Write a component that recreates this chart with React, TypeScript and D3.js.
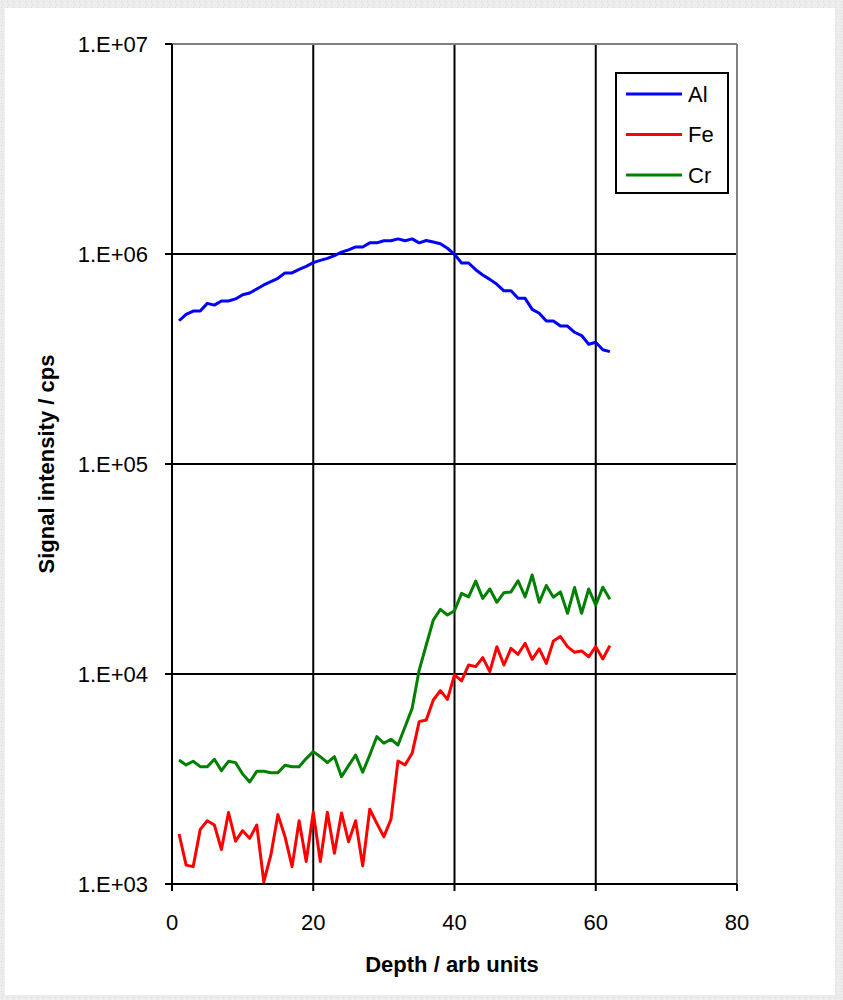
import React from "react";
import * as d3 from "d3";

const depth = d3.range(1, 63);

const alValues = [
  481000, 516000, 535000, 535000, 582000, 571000, 597000, 597000, 611000, 640000,
  652000, 681000, 712000, 738000, 766000, 813000, 813000, 845000, 873000, 909000,
  933000, 953000, 982000, 1020000, 1047000, 1080000, 1080000, 1130000, 1130000, 1156000,
  1156000, 1180000, 1156000, 1180000, 1130000, 1160000, 1140000, 1120000, 1065000, 997000,
  906000, 906000, 842000, 794000, 757000, 717000, 668000, 668000, 615000, 615000,
  545000, 522000, 480000, 480000, 454000, 454000, 424000, 409000, 372000, 380000,
  350000, 343000,
];

const feValues = [
  1730, 1230, 1210, 1820, 2000, 1910, 1460, 2190, 1600, 1795,
  1650, 1910, 1025, 1375, 2140, 1680, 1210, 2000, 1280, 2200,
  1280, 2195, 1400, 2180, 1590, 2000, 1220, 2270, 1945, 1680,
  2030, 3855, 3690, 4190, 5930, 6040, 7520, 8330, 7570, 9900,
  9270, 11040, 10840, 11970, 10270, 13490, 11040, 13250, 12410, 14000,
  11750, 13160, 11240, 14360, 15070, 13490, 12680, 12880, 12080, 13490,
  11790, 13650,
];

const crValues = [
  3890, 3690, 3840, 3620, 3620, 3925, 3465, 3840, 3785, 3340,
  3060, 3440, 3440, 3390, 3390, 3675, 3620, 3620, 3955, 4270,
  4040, 3785, 4040, 3245, 3660, 4115, 3405, 4115, 5030, 4680,
  4890, 4590, 5610, 6860, 10440, 13740, 18080, 20300, 19100, 20000,
  24200, 23300, 27700, 22900, 25400, 21950, 24400, 24600, 27800, 23300,
  29600, 21950, 26400, 23200, 24600, 19450, 25800, 19450, 25400, 21300,
  25900, 22700,
];

const seriesNames = ["Al", "Fe", "Cr"];
const seriesColors = ["#0000ff", "#ff0000", "#008000"];
const seriesValues = [alValues, feValues, crValues];

const xTicks = [0, 20, 40, 60, 80];
const yTicks = [1e3, 1e4, 1e5, 1e6, 1e7];
const yTickLabels = ["1.E+03", "1.E+04", "1.E+05", "1.E+06", "1.E+07"];

const W = 843;
const H = 1000;
const left = 172;
const right = 737;
const top = 44;
const bottom = 884;

const App: React.FC = () => {
  const x = d3.scaleLinear().domain([0, 80]).range([left, right]);
  const y = d3.scaleLog().domain([1e3, 1e7]).range([bottom, top]);

  const line = d3
    .line<number>()
    .x((_, i) => x(depth[i]))
    .y((d) => y(d));

  const font = "'Liberation Sans', Arial, sans-serif";

  return (
    <svg
      width={W}
      height={H}
      style={{ position: "absolute", left: 0, top: 0 }}
      fontFamily={font}
    >
      <defs>
        <pattern id="speck" width="6" height="6" patternUnits="userSpaceOnUse">
          <rect width="6" height="6" fill="#ececec" />
          <rect x="1" y="1" width="1" height="1" fill="#d8d8d8" />
          <rect x="4" y="3" width="1" height="1" fill="#f6f6f6" />
          <rect x="2" y="4" width="1" height="1" fill="#dedede" />
        </pattern>
      </defs>
      <rect width={W} height={H} fill="url(#speck)" />
      <rect x={5} y={8} width={830} height={987} fill="#ffffff" />

      {/* grid */}
      {xTicks.slice(1, -1).map((t) => (
        <line key={`gx${t}`} x1={x(t)} x2={x(t)} y1={top} y2={bottom} stroke="#000" strokeWidth={2} />
      ))}
      {yTicks.slice(1, -1).map((t) => (
        <line key={`gy${t}`} x1={left} x2={right} y1={y(t)} y2={y(t)} stroke="#000" strokeWidth={2} />
      ))}

      {/* frame */}
      <line x1={left} x2={right} y1={top} y2={top} stroke="#808080" strokeWidth={2} />
      <line x1={right} x2={right} y1={top} y2={bottom} stroke="#808080" strokeWidth={2} />
      <line x1={left} x2={left} y1={top} y2={bottom} stroke="#000" strokeWidth={2} />
      <line x1={left} x2={right} y1={bottom} y2={bottom} stroke="#000" strokeWidth={2} />

      {/* y ticks */}
      {yTicks.map((t, i) => (
        <g key={`yt${t}`}>
          <line x1={left - 7} x2={left} y1={y(t)} y2={y(t)} stroke="#000" strokeWidth={2} />
          <text x={148} y={y(t)} dy="0.35em" textAnchor="end" fontSize={22} fill="#000">
            {yTickLabels[i]}
          </text>
        </g>
      ))}

      {/* x ticks */}
      {xTicks.map((t) => (
        <g key={`xt${t}`}>
          <line x1={x(t)} x2={x(t)} y1={bottom} y2={bottom + 7} stroke="#000" strokeWidth={2} />
          <text x={x(t)} y={930} textAnchor="middle" fontSize={22} fill="#000">
            {t}
          </text>
        </g>
      ))}

      {/* series */}
      {seriesValues.map((vals, i) => (
        <path
          key={seriesNames[i]}
          d={line(vals) || ""}
          fill="none"
          stroke={seriesColors[i]}
          strokeWidth={3}
          strokeLinejoin="round"
        />
      ))}

      {/* axis titles */}
      <text x={452} y={972} textAnchor="middle" fontSize={22} fontWeight="bold" fill="#000">
        Depth / arb units
      </text>
      <text
        transform={`translate(54,${(top + bottom) / 2}) rotate(-90)`}
        textAnchor="middle"
        fontSize={22}
        fontWeight="bold"
        fill="#000"
      >
        Signal intensity / cps
      </text>

      {/* legend */}
      <rect x={616} y={73} width={112} height={120} fill="#fff" stroke="#000" strokeWidth={2} />
      {seriesNames.map((name, i) => (
        <g key={`lg${name}`}>
          <line
            x1={626}
            x2={682}
            y1={94 + i * 40.5}
            y2={94 + i * 40.5}
            stroke={seriesColors[i]}
            strokeWidth={3}
          />
          <text x={688} y={94 + i * 40.5} dy="0.36em" fontSize={22} fill="#000">
            {name}
          </text>
        </g>
      ))}
    </svg>
  );
};

export default App;
